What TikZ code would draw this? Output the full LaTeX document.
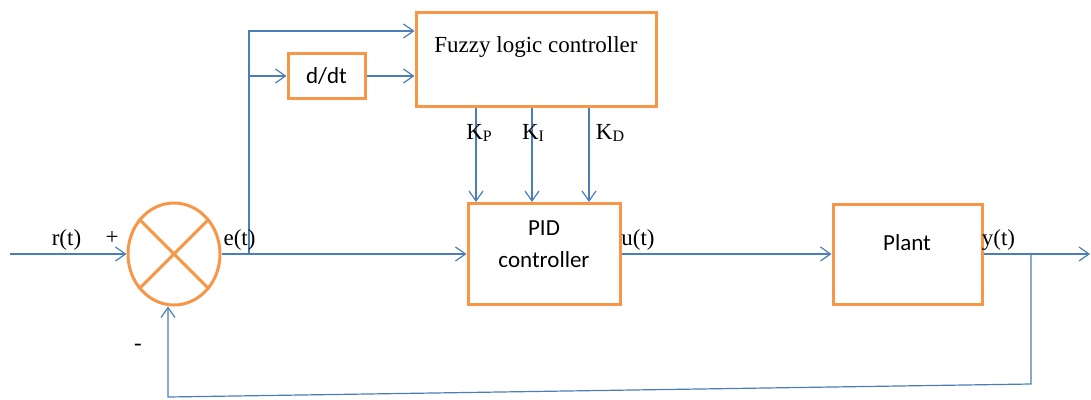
\documentclass[tikz,border=0pt]{standalone}
\usepackage{fontspec}
\setmainfont{Liberation Serif}
\newfontfamily\calib{Carlito}
\usetikzlibrary{arrows.meta,shapes.geometric}
\definecolor{orng}{HTML}{F79646}
\definecolor{blu}{HTML}{4A7EBB}
\begin{document}
\begin{tikzpicture}[x=1pt,y=-1pt,
  blk/.style={draw=orng,line width=3pt,inner sep=0pt,rectangle},
  conn/.style={draw=blu,line width=1.2pt},
  arr/.style={conn,-{Straight Barb[length=10pt,width=14pt]}},
  serif/.style={font=\fontsize{23}{27}\selectfont,inner sep=0pt},
  sans/.style={font=\calib\fontsize{23}{27}\selectfont,inner sep=0pt}]
\useasboundingbox (0,0) rectangle (1091,399);
% blocks
\node[blk,minimum width=240pt,minimum height=94pt] (flc) at (536,59) {};
\node[serif] (flct) at (536,47) {Fuzzy logic controller};
\node[blk,sans,minimum width=77pt,minimum height=45pt] (ddt) at (326.5,76) {d/dt};
\node[blk,minimum width=152pt,minimum height=101pt] (pid) at (544,254) {};
\node[sans,align=center] (pidt) at (544,244) {PID\\[5pt]controller};
\node[blk,minimum width=149pt,minimum height=100pt] (plant) at (907.5,254) {};
\node[sans] (plantt) at (907,243) {Plant};
\node[ellipse,draw=orng,line width=3pt,minimum width=92pt,minimum height=102pt,inner sep=0pt] (sum) at (174,254) {};
\draw[orng,line width=3pt] (sum.135) -- (sum.315) (sum.45) -- (sum.225);
% coordinates
\coordinate (rin) at (10,254);
\coordinate (eb) at (249,254);
\coordinate (top) at (249,31);
\coordinate (mid) at (249,76);
\coordinate (kp) at (476,133);
\coordinate (ki) at (532,133);
\coordinate (kd) at (589,133);
\coordinate (yb) at (1031,254);
\coordinate (out) at (1090,254);
\coordinate (fbr) at (1031,384);
\coordinate (fbl) at (168,397);
% connectors
\draw[arr] (rin) -- (sum.west);
\draw[arr] (sum.east) -- (pid.west);
\draw[arr] (eb) -- (top) -- (flc.west |- top);
\draw[arr] (mid) -- (ddt.west);
\draw[arr] (ddt.east) -- (flc.west |- ddt.east);
\draw[arr] (flc.south -| kp) -- (pid.north -| kp);
\draw[arr] (flc.south -| ki) -- (pid.north -| ki);
\draw[arr] (flc.south -| kd) -- (pid.north -| kd);
\draw[arr] (pid.east) -- (plant.west);
\draw[arr] (plant.east) -- (out);
\draw[arr] (yb) -- (fbr) -- (fbl) -- (sum.south -| fbl);
% labels
\node[serif] (lr) at (66.5,240) {r(t)};
\node[serif] (lplus) at (112,238) {+};
\node[serif] (le) at (239.5,240) {e(t)};
\node[serif] (lu) at (638,240) {u(t)};
\node[serif] (ly) at (998.5,240) {y(t)};
\node[serif] (lminus) at (138,347) {-};
\node[serif] (lkp) at (479,133) {K\raisebox{-0.2ex}{\fontsize{16}{16}\selectfont P}};
\node[serif] (lki) at (533,133) {K\raisebox{-0.2ex}{\fontsize{16}{16}\selectfont I}};
\node[serif] (lkd) at (610,133) {K\raisebox{-0.2ex}{\fontsize{16}{16}\selectfont D}};
\end{tikzpicture}
\end{document}
